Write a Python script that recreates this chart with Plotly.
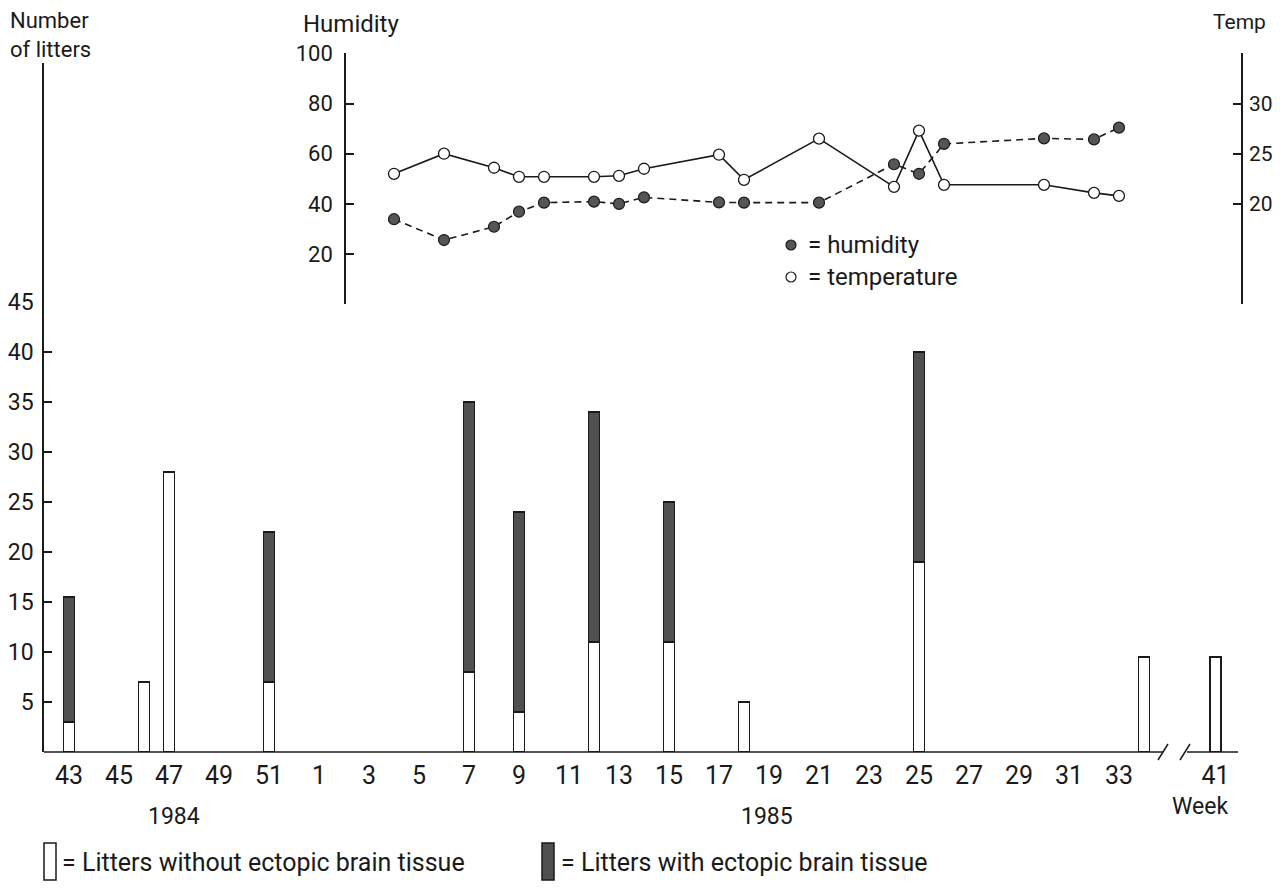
import plotly.graph_objects as go

# ---------------- data ----------------
bar_year = [1984, 1984, 1984, 1984, 1985, 1985, 1985, 1985, 1985, 1985, 1985, 1985]
bar_week = [43, 46, 47, 51, 7, 9, 12, 15, 18, 25, 34, 41]
litters_without = [3, 7, 28, 7, 8, 4, 11, 11, 5, 19, 9.5, 9.5]
litters_with = [12.5, None, None, 15, 27, 20, 23, 14, None, 21, None, None]

line_week_1985 = [4, 6, 8, 9, 10, 12, 13, 14, 17, 18, 21, 24, 25, 26, 30, 32, 33]
humidity = [33.9, 25.6, 30.9, 36.9, 40.5, 40.9, 40.0, 42.6, 40.6, 40.5, 40.5,
            55.8, 52.0, 63.9, 66.1, 65.7, 70.4]
temperature = [23.0, 25.0, 23.6, 22.7, 22.7, 22.7, 22.8, 23.5, 24.9, 22.4, 26.5,
               21.7, 27.3, 21.9, 21.9, 21.1, 20.8]

tick_year = [1984] * 5 + [1985] * 17 + [1985]
tick_week = [43, 45, 47, 49, 51] + list(range(1, 34, 2)) + [41]

BREAK_AFTER = 34      # axis is broken after week 34 of 1985
BREAK_SHRINK = 4.14   # weeks removed by the break


def pos(year, week):
    if year == 1984:
        p = week - 43
    else:
        p = week + 9
        if week > BREAK_AFTER:
            p -= BREAK_SHRINK
    return p


bar_pos = [pos(y, w) for y, w in zip(bar_year, bar_week)]
line_pos = [pos(1985, w) for w in line_week_1985]
tick_pos = [pos(y, w) for y, w in zip(tick_year, tick_week)]

# ---------------- layout geometry (reference pixel coords) ----------------
OFF = 8                      # page body margin
W, H = 1282 - 2 * OFF, 889 - 2 * OFF
L, R, T, B = 44, 1242, 50, 752
PW, PH = R - L, B - T
FONT = "Roboto"
INK = "#1a1a1a"
DARK = "#505050"


def px(x):
    return (x - L) / PW


def py(y):
    return (B - y) / PH


fig = go.Figure()

fig.add_trace(go.Bar(
    x=bar_pos, y=litters_without, width=0.44,
    marker=dict(color="white", line=dict(color=INK, width=1.6)),
    xaxis="x", yaxis="y", showlegend=False, hoverinfo="skip"))
fig.add_trace(go.Bar(
    x=bar_pos, y=litters_with, width=0.44,
    marker=dict(color=DARK, line=dict(color=INK, width=1.6)),
    xaxis="x", yaxis="y", showlegend=False, hoverinfo="skip"))

fig.add_trace(go.Scatter(
    x=line_pos, y=humidity, mode="lines+markers",
    line=dict(color=INK, width=1.6, dash="7px,5px"),
    marker=dict(size=11, color="#555555", line=dict(color=INK, width=1.2)),
    xaxis="x", yaxis="y2", showlegend=False, hoverinfo="skip"))
fig.add_trace(go.Scatter(
    x=line_pos, y=temperature, mode="lines+markers",
    line=dict(color=INK, width=1.6),
    marker=dict(size=11, color="white", line=dict(color=INK, width=1.3)),
    xaxis="x", yaxis="y3", showlegend=False, hoverinfo="skip"))

x0 = -1
x1 = x0 + PW / 25.0
axis_common = dict(showgrid=False, zeroline=False, linecolor=INK, linewidth=1.5,
                   tickcolor=INK, tickwidth=1.5, ticklen=8, ticks="inside",
                   showline=True, fixedrange=True, automargin=False)

fig.update_layout(
    template="none",
    width=W, height=H,
    margin=dict(l=L - OFF, r=W - (R - OFF), t=T - OFF, b=H - (B - OFF), pad=0,
                autoexpand=False),
    paper_bgcolor="white", plot_bgcolor="white",
    barmode="stack",
    font=dict(family=FONT, color=INK, size=22),
    xaxis=dict(range=[x0, x1], showline=False, showgrid=False, zeroline=False,
               tickvals=tick_pos, ticktext=[str(w) for w in tick_week],
               ticks="", tickfont=dict(size=25), ticklabelstandoff=6,
               fixedrange=True, automargin=False),
    yaxis=dict(range=[0, (B - 63) / 10.0], domain=[0, (B - 63) / PH],
               tickvals=[5, 10, 15, 20, 25, 30, 35, 40, 45],
               tickfont=dict(size=23), ticklabelstandoff=4, **axis_common),
    yaxis2=dict(range=[0, 100], domain=[py(304.3), py(53.3)],
                anchor="free", position=px(345), side="left",
                tickvals=[20, 40, 60, 80, 100], tickfont=dict(size=22),
                ticklabelstandoff=7, **axis_common),
    yaxis3=dict(range=[10, 35], overlaying="y2", anchor="free", position=1.0,
                side="right", tickvals=[20, 25, 30], tickfont=dict(size=21),
                ticklabelstandoff=2, **axis_common),
)

# x-axis baseline with break
b_left = pos(1985, BREAK_AFTER) + 0.76
b_right = pos(1985, 41) - 1.14
x_end = (1238 - L) / 25.0 + x0
shapes = [
    dict(type="line", xref="x", yref="paper", x0=x0, x1=b_left, y0=0, y1=0,
         line=dict(color=INK, width=1.5)),
    dict(type="line", xref="x", yref="paper", x0=b_right, x1=x_end, y0=0, y1=0,
         line=dict(color=INK, width=1.5)),
]
for bx in (b_left, b_right - 0.08):
    shapes.append(dict(type="line", xref="x", yref="paper",
                       x0=bx - 0.2, x1=bx + 0.2, y0=py(760), y1=py(744),
                       line=dict(color=INK, width=1.5)))

# bar legend rectangles
shapes.append(dict(type="rect", xref="paper", yref="paper",
                   x0=px(44), x1=px(56), y0=py(880), y1=py(843),
                   fillcolor="white", line=dict(color=INK, width=1.5)))
shapes.append(dict(type="rect", xref="paper", yref="paper",
                   x0=px(542), x1=px(554), y0=py(880), y1=py(843),
                   fillcolor=DARK, line=dict(color=INK, width=1.5)))
# line legend markers
shapes.append(dict(type="circle", xref="paper", yref="paper",
                   x0=px(786), x1=px(796), y0=py(250), y1=py(240),
                   fillcolor="#555555", line=dict(color=INK, width=1.2)))
shapes.append(dict(type="circle", xref="paper", yref="paper",
                   x0=px(786), x1=px(796), y0=py(282), y1=py(272),
                   fillcolor="white", line=dict(color=INK, width=1.2)))
fig.update_layout(shapes=shapes)


def note(text, x, y, xanchor="left", yanchor="middle", size=23, align="left"):
    fig.add_annotation(text=text, xref="paper", yref="paper", x=px(x), y=py(y),
                       xanchor=xanchor, yanchor=yanchor, showarrow=False,
                       align=align, font=dict(size=size, family=FONT, color=INK))


note("Number<br>of litters", 8, 6, yanchor="top", size=22)
note("Humidity", 301, 8, yanchor="top", size=24)
note("Temp", 1268, 8, xanchor="right", yanchor="top", size=21)
note("1984", 174, 816, xanchor="center")
note("1985", 767, 816, xanchor="center")
note("Week", 1200, 806, xanchor="center")
note("= humidity", 806, 245, size=24)
note("= temperature", 806, 277, size=24)
note("= Litters without ectopic brain tissue", 60, 863, size=25)
note("= Litters with ectopic brain tissue", 559, 863, size=25)

fig.write_html("out.html")
